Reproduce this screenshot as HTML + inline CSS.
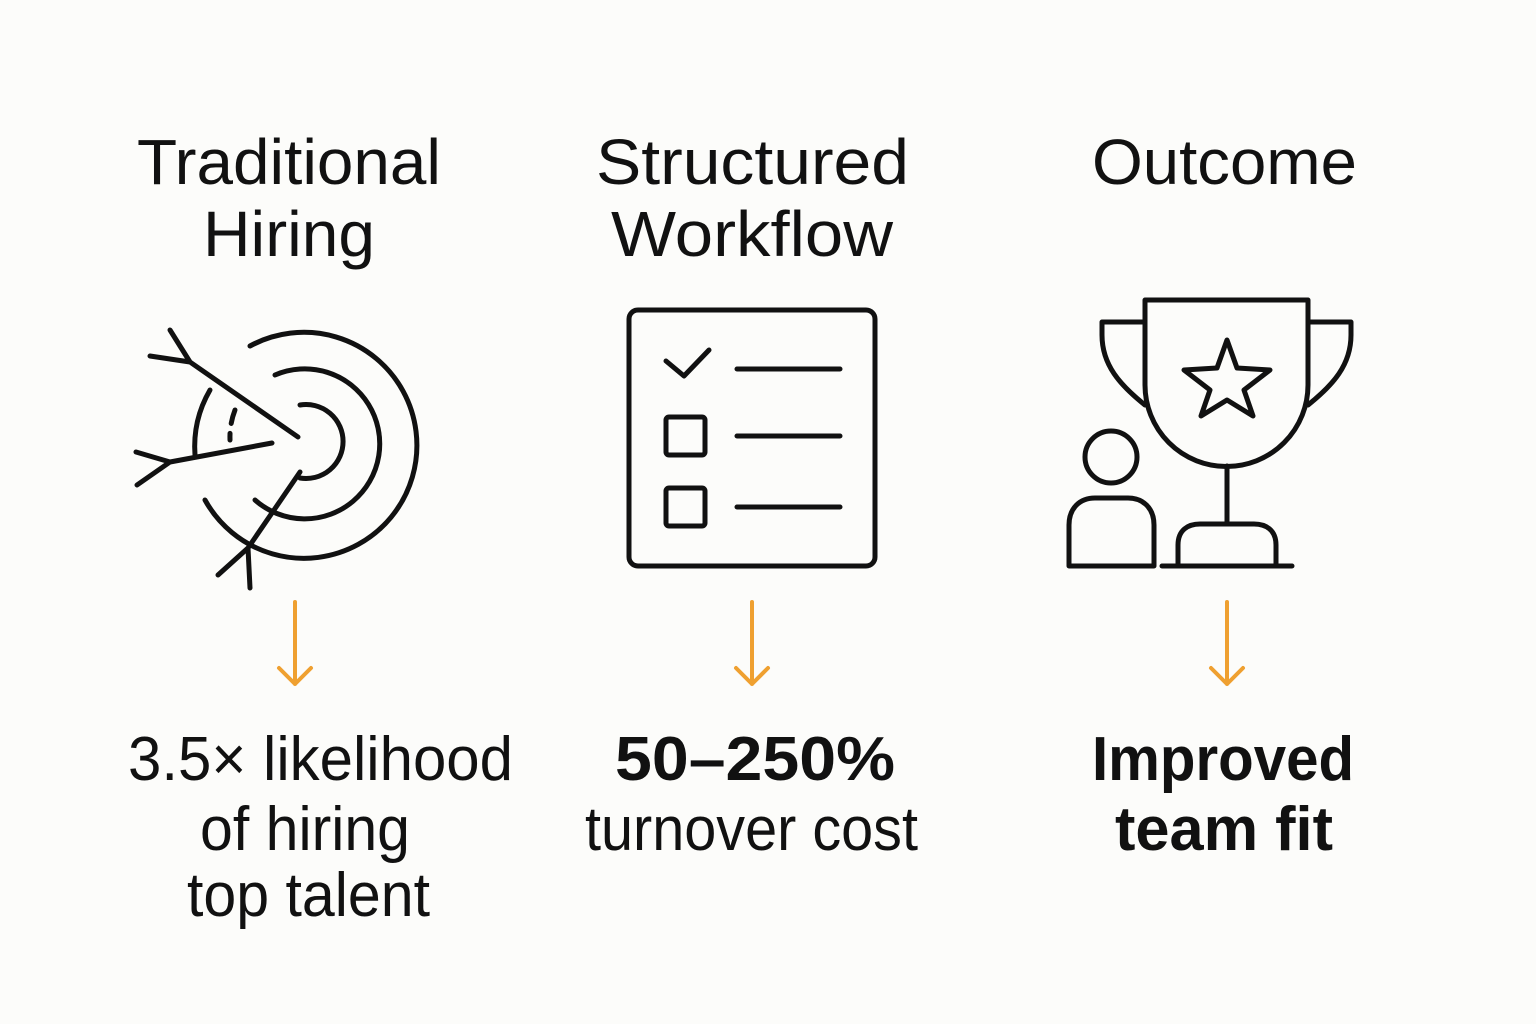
<!DOCTYPE html>
<html><head><meta charset="utf-8"><style>
html,body{margin:0;padding:0;background:#fcfcfa;}
svg{display:block}
text{font-family:"Liberation Sans",sans-serif;fill:#111;}
</style></head><body>
<svg width="1536" height="1024" viewBox="0 0 1536 1024" xmlns="http://www.w3.org/2000/svg">
<rect width="1536" height="1024" fill="#fcfcfa"/>
<g font-size="64" font-weight="normal">
<text x="137" y="184" textLength="304" lengthAdjust="spacingAndGlyphs">Traditional</text>
<text x="203" y="256" textLength="172" lengthAdjust="spacingAndGlyphs">Hiring</text>
<text x="596" y="184" textLength="313" lengthAdjust="spacingAndGlyphs">Structured</text>
<text x="611" y="256" textLength="282" lengthAdjust="spacingAndGlyphs">Workflow</text>
<text x="1092" y="184" textLength="265" lengthAdjust="spacingAndGlyphs">Outcome</text>
</g>
<g font-size="62">
<text x="128" y="780" textLength="385" lengthAdjust="spacingAndGlyphs">3.5× likelihood</text>
<text x="200" y="850" textLength="210" lengthAdjust="spacingAndGlyphs">of hiring</text>
<text x="187" y="916" textLength="243" lengthAdjust="spacingAndGlyphs">top talent</text>
<text x="615" y="780" font-weight="bold" textLength="280" lengthAdjust="spacingAndGlyphs">50–250%</text>
<text x="585" y="850" textLength="333" lengthAdjust="spacingAndGlyphs">turnover cost</text>
<text x="1092" y="780" font-weight="bold" textLength="262" lengthAdjust="spacingAndGlyphs">Improved</text>
<text x="1115" y="850" font-weight="bold" textLength="218" lengthAdjust="spacingAndGlyphs">team fit</text>
</g>
<g stroke="#efa030" stroke-width="4" fill="none" stroke-linecap="round" stroke-linejoin="round">
<path d="M295 602V684M279 668L295 684L311 668"/>
<path d="M752 602V684M736 668L752 684L768 668"/>
<path d="M1227 602V684M1211 668L1227 684L1243 668"/>
</g>
<g stroke="#111" stroke-width="5" fill="none" stroke-linecap="round" stroke-linejoin="round">
<!-- target -->
<path d="M250 346 A113 113 0 1 1 205 500"/>
<path d="M195 455 A113 113 0 0 1 210 390"/>
<path d="M275 375 A75 75 0 1 1 255 500"/>
<path d="M235 410 A75 75 0 0 0 230 440" stroke-dasharray="14 10"/>
<path d="M300 405 A37 37 0 1 1 300 478"/>
<path d="M298 437 L190 362 M190 362 L150 356 M190 362 L170 330"/>
<path d="M272 443 L170 462 M170 462 L136 452 M170 462 L137 485"/>
<path d="M300 472 L248 548 M248 548 L218 575 M248 548 L250 588"/>
<!-- checklist -->
<rect x="629" y="310" width="246" height="256" rx="9"/>
<path d="M666 361L684 376L709 350"/>
<path d="M737 369H840M737 436H840M737 507H840"/>
<rect x="666" y="417" width="39" height="38" rx="3"/>
<rect x="666" y="488" width="39" height="38" rx="3"/>
<!-- trophy -->
<path d="M1145 300H1308V385A81 81 0 0 1 1145 385Z"/>
<path d="M1145 322H1102V335C1102 365 1120 385 1145 405"/>
<path d="M1308 322H1351V335C1351 365 1333 385 1308 405"/>
<path d="M1227 466V522"/>
<path d="M1178 566V545C1178 530 1188 524 1200 524H1254C1266 524 1276 530 1276 545V566"/>
<path d="M1162 566H1292"/>
<path d="M1227 340L1237 368L1270 370L1244 390L1253 416L1227 400L1201 416L1210 390L1184 370L1217 368Z"/>
<circle cx="1111" cy="457" r="26"/>
<path d="M1069 566V525C1069 508 1080 498 1095 498H1128C1143 498 1154 508 1154 525V566Z"/>
</g>
</svg>
</body></html>
